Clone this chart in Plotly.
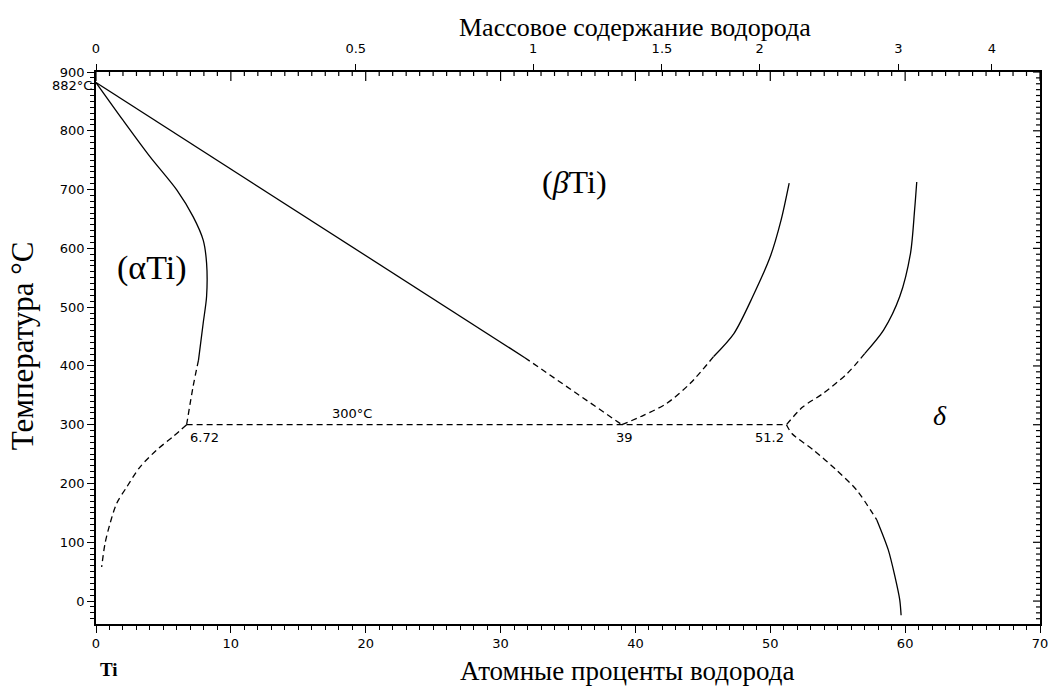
import numpy as np
import plotly.graph_objects as go

# ---------------- data ----------------
# alpha-Ti solvus (upper part, solid) and its dashed continuation to the eutectoid point
alpha_solid_x = [0, 2.0, 4.0, 6.0, 7.2, 7.95, 8.2, 8.2, 7.95, 7.6]
alpha_solid_y = [882, 818, 756, 699, 654, 614, 575, 518, 473, 410]
alpha_dash_x = [7.6, 7.2, 6.72]
alpha_dash_y = [410, 365, 300]

# beta transus (solid) and dashed continuation to the eutectoid point
beta_solid_x = [0, 31.8]
beta_solid_y = [882, 414]
beta_dash_x = [31.8, 39.0]
beta_dash_y = [414, 300]

# alpha solvus below the eutectoid (dashed)
alpha_low_x = [6.72, 5.73, 4.50, 3.26, 2.28, 1.53, 1.04, 0.67, 0.42]
alpha_low_y = [300, 280, 257, 228, 194, 166, 132, 98, 58]

# beta / (beta + delta) boundary
bd_dash_x = [39.0, 40.6, 42.3, 44.05, 45.8]
bd_dash_y = [300, 316, 336, 370, 416]
bd_solid_x = [45.8, 47.3, 48.7, 50.0, 50.8, 51.4]
bd_solid_y = [416, 455, 518, 586, 648, 711]

# delta boundary (upper)
du_solid_x = [60.86, 60.7, 60.4, 59.6, 58.4, 57.0]
du_solid_y = [713, 665, 592, 518, 461, 421]
du_dash_x = [57.0, 55.7, 53.9, 52.4, 51.2]
du_dash_y = [421, 387, 353, 330, 300]

# delta boundary (lower)
dl_dash_x = [51.2, 51.6, 53.2, 54.9, 56.4, 57.9]
dl_dash_y = [300, 285, 257, 223, 189, 138]
dl_solid_x = [57.9, 58.75, 59.25, 59.6, 59.7]
dl_solid_y = [138, 87, 41, 2, -24]

# eutectoid line
eut_x = [6.72, 51.2]
eut_y = [300, 300]

# top axis: mass percent of hydrogen
mass_ticks = [0, 0.5, 1, 1.5, 2, 3, 4]
mass_labels = ["0", "0.5", "1", "1.5", "2", "3", "4"]
M_H, M_TI = 1.008, 47.867


def wt_to_at(w):
    nh = w / M_H
    nt = (100 - w) / M_TI
    return 100 * nh / (nh + nt)


mass_pos = [wt_to_at(w) for w in mass_ticks]

# ---------------- figure ----------------
LINE = dict(color="black", width=1.3)
DASH = dict(color="black", width=1.3, dash="6px,4px")

fig = go.Figure()


def add(xs, ys, dashed=False):
    fig.add_trace(go.Scatter(x=xs, y=ys, mode="lines",
                             line=dict(DASH if dashed else LINE, shape="spline", smoothing=0.8),
                             hoverinfo="skip", showlegend=False))


add(alpha_solid_x, alpha_solid_y)
add(alpha_dash_x, alpha_dash_y, True)
add(beta_solid_x, beta_solid_y)
add(beta_dash_x, beta_dash_y, True)
add(alpha_low_x, alpha_low_y, True)
add(bd_dash_x, bd_dash_y, True)
add(bd_solid_x, bd_solid_y)
add(du_solid_x, du_solid_y)
add(du_dash_x, du_dash_y, True)
add(dl_dash_x, dl_dash_y, True)
add(dl_solid_x, dl_solid_y)
add(eut_x, eut_y, True)

# dummy traces so the extra axes are drawn
fig.add_trace(go.Scatter(x=[0, 70], y=[None, None], xaxis="x2", yaxis="y", showlegend=False, hoverinfo="skip"))
fig.add_trace(go.Scatter(x=[None, None], y=[0, 900], xaxis="x", yaxis="y2", showlegend=False, hoverinfo="skip"))

TICKFONT = dict(family="DejaVu Sans", size=13, color="black")
SERIF = "Liberation Serif"
XR = [0, 70]
YR = [-39, 900]

fig.update_layout(
    width=1050, height=686,
    margin=dict(l=96, r=10, t=72, b=62, autoexpand=False),
    paper_bgcolor="white", plot_bgcolor="white",
    showlegend=False,
    xaxis=dict(range=XR, tickmode="linear", tick0=0, dtick=10, ticks="outside", ticklen=7,
               tickwidth=1.4, tickcolor="black",
               minor=dict(dtick=1, ticks="outside", ticklen=4, tickwidth=1.2, tickcolor="black"),
               showline=True, linecolor="black", linewidth=1.5, showgrid=False, zeroline=False,
               tickfont=TICKFONT, automargin=False),
    xaxis2=dict(range=XR, overlaying="x", side="top", anchor="y", tickmode="array",
                tickvals=mass_pos, ticktext=mass_labels, ticks="outside", ticklen=6, tickwidth=1.4,
                tickcolor="black", showline=True, linecolor="black", linewidth=1.5,
                showgrid=False, zeroline=False, tickfont=TICKFONT, ticklabelstandoff=6,
                automargin=False),
    yaxis=dict(range=YR, tickmode="linear", tick0=0, dtick=100, ticks="outside", ticklen=7,
               tickwidth=1.4, tickcolor="black",
               minor=dict(dtick=10, ticks="outside", ticklen=4, tickwidth=1.2, tickcolor="black"),
               showline=True, linecolor="black", linewidth=1.5, showgrid=False, zeroline=False,
               tickfont=TICKFONT, automargin=False),
    yaxis2=dict(range=YR, overlaying="y", side="right", anchor="x", showticklabels=False, ticks="",
                showline=True, linecolor="black", linewidth=1.5,
                showgrid=False, zeroline=False, automargin=False),
)

# inside tick combs on the top and right frame edges (mirror of the bottom / left scales)
shapes = []
TK = dict(color="black", width=1.2)
for v in np.arange(0, 71, 1):
    L = 9 if v % 10 == 0 else 4
    shapes.append(dict(type="line", xref="x", yref="paper", ysizemode="pixel", yanchor=1,
                       x0=v, x1=v, y0=0, y1=-L, line=TK, layer="above"))
for v in np.arange(-30, 901, 10):
    L = 7 if v % 100 == 0 else 4
    shapes.append(dict(type="line", xref="paper", yref="y", xsizemode="pixel", xanchor=1,
                       x0=0, x1=-L, y0=v, y1=v, line=TK, layer="above"))
fig.update_layout(shapes=shapes)

ann = []
# axis titles
ann.append(dict(text="Массовое содержание водорода", xref="paper", yref="paper", x=0.571, y=1.0815,
                xanchor="center", yanchor="middle",
                showarrow=False, font=dict(family=SERIF, size=26, color="black")))
ann.append(dict(text="Атомные проценты водорода", xref="paper", yref="paper", x=0.5625, y=-0.085,
                xanchor="center", yanchor="middle",
                showarrow=False, font=dict(family=SERIF, size=27, color="black")))
ann.append(dict(text="Температура °C", xref="paper", yref="paper", x=-0.0784, y=0.505, textangle=-90,
                xanchor="center", yanchor="middle",
                showarrow=False, font=dict(family=SERIF, size=31, color="black")))
ann.append(dict(text="<b>Ti</b>", xref="paper", yref="paper", x=0.0138, y=-0.0833,
                xanchor="center", yanchor="middle",
                showarrow=False, font=dict(family=SERIF, size=19, color="black")))
# in-plot labels
ann.append(dict(text="882°C", x=0, y=882, xanchor="right", yanchor="middle", xshift=-2, yshift=-3,
                showarrow=False, font=TICKFONT))
ann.append(dict(text="(αTi)", x=4.1, y=567, showarrow=False,
                font=dict(family=SERIF, size=34, color="black")))
ann.append(dict(text="(<i>β</i>Ti)", x=35.5, y=713, showarrow=False,
                font=dict(family=SERIF, size=32, color="black")))
ann.append(dict(text="<i>δ</i>", x=62.6, y=316, showarrow=False,
                font=dict(family=SERIF, size=28, color="black")))
ann.append(dict(text="300°C", x=19.0, y=300, yshift=11, showarrow=False, font=TICKFONT))
ann.append(dict(text="6.72", x=6.85, y=300, xanchor="left", yshift=-13, showarrow=False, font=TICKFONT))
ann.append(dict(text="39", x=39.2, y=300, yshift=-13, showarrow=False, font=TICKFONT))
ann.append(dict(text="51.2", x=51.2, y=300, xanchor="right", yshift=-13, showarrow=False, font=TICKFONT))
fig.update_layout(annotations=ann)

fig.write_html("out.html")
